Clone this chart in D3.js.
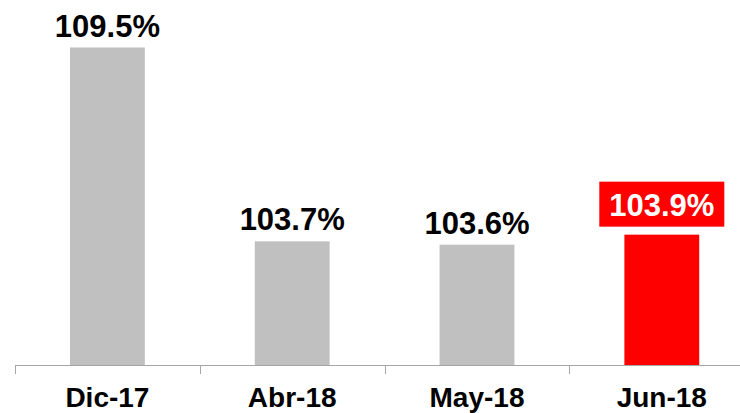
<!DOCTYPE html>
<html>
<head>
<meta charset="utf-8">
<script src="https://cdn.jsdelivr.net/npm/d3@7"></script>
<style>
    body { margin: 0; background: #fff; }
    text { font-family: "Liberation Sans", Arial, sans-serif; font-weight: bold; }
</style>
</head>
<body>
<div id="chart"></div>
<script>
const categories = ["Dic-17", "Abr-18", "May-18", "Jun-18"]
const values = [109.5, 103.7, 103.6, 103.9]
const highlight = "Jun-18"

const width = 740
const height = 413

const svg = d3.select("#chart")
    .append("svg")
    .attr("width", width)
    .attr("height", height)

const x = d3.scaleBand()
    .domain(categories)
    .range([15, 754.2])
const y = d3.scaleLinear()
    .domain([100, 109.5])
    .range([365, 47.5])

const barWidth = x.step() * 0.405
const data = categories.map((c, i) => ({ cat: c, value: values[i] }))

svg.selectAll(".bar")
    .data(data)
    .enter()
    .append("rect")
    .attr("class", "bar")
    .attr("x", d => x(d.cat) + (x.step() - barWidth) / 2)
    .attr("width", barWidth)
    .attr("y", d => y(d.value))
    .attr("height", d => y(100) - y(d.value))
    .attr("fill", d => d.cat == highlight ? "#ff0000" : "#c0c0c0")

// axis line + ticks at band edges
svg.append("line")
    .attr("x1", x.range()[0])
    .attr("x2", width)
    .attr("y1", y(100) + 0.5)
    .attr("y2", y(100) + 0.5)
    .attr("stroke", "#a6a6a6")
    .attr("stroke-width", 1)
const edges = categories.map(c => x(c)).concat([x.range()[1]])
svg.selectAll(".tick")
    .data(edges)
    .enter()
    .append("line")
    .attr("class", "tick")
    .attr("x1", d => Math.round(d) + 0.5)
    .attr("x2", d => Math.round(d) + 0.5)
    .attr("y1", y(100))
    .attr("y2", y(100) + 9)
    .attr("stroke", "#a6a6a6")

svg.selectAll(".cat-label")
    .data(categories)
    .enter()
    .append("text")
    .attr("class", "cat-label")
    .text(d => d)
    .attr("x", d => x(d) + x.step() / 2)
    .attr("y", 407)
    .attr("text-anchor", "middle")
    .attr("font-size", 28)
    .attr("fill", "#000")

// value labels
const plain = data.filter(d => d.cat != highlight)
svg.selectAll(".value-label")
    .data(plain)
    .enter()
    .append("text")
    .attr("class", "value-label")
    .text(d => d.value.toFixed(1) + "%")
    .attr("x", d => x(d.cat) + x.step() / 2)
    .attr("y", d => y(d.value) - 11)
    .attr("text-anchor", "middle")
    .attr("font-size", 31)
    .attr("fill", "#000")

const hl = data.find(d => d.cat == highlight)
svg.append("rect")
    .attr("x", x(hl.cat) + x.step() / 2 - 62.5)
    .attr("y", y(hl.value) - 53)
    .attr("width", 125)
    .attr("height", 45)
    .attr("fill", "#ff0000")
svg.append("text")
    .text(hl.value.toFixed(1) + "%")
    .attr("x", x(hl.cat) + x.step() / 2)
    .attr("y", y(hl.value) - 19)
    .attr("text-anchor", "middle")
    .attr("font-size", 31)
    .attr("fill", "#fff")
</script>
</body>
</html>
